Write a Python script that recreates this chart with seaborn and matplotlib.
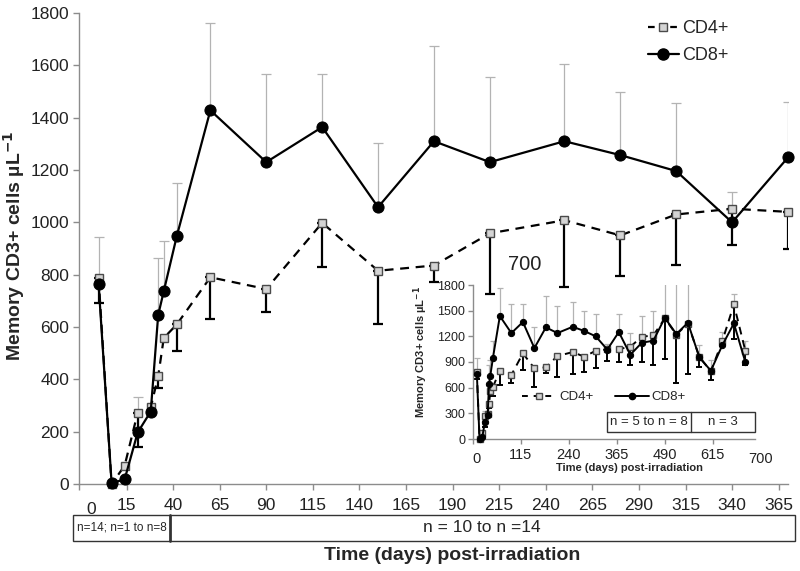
import numpy as np
import pandas as pd
import matplotlib
matplotlib.use("Agg")
import matplotlib.pyplot as plt
from matplotlib.patches import Rectangle
from matplotlib.lines import Line2D
import seaborn as sns

# Main chart data (days post-irradiation, first year)
days_main = [0, 7, 14, 21, 28, 32, 35, 42, 60, 90, 120, 150, 180, 210, 250, 280, 310, 340, 370]
cd8_main = [765, 3, 18, 197, 277, 646, 737, 948, 1428, 1230, 1364, 1058, 1310, 1230, 1310, 1257, 1196, 1000, 1248]
cd8_main_top = [944, np.nan, np.nan, 332, np.nan, 864, 929, 1150, 1762, 1567, 1567, 1303, 1674, 1556, 1605, 1498, 1456, 1116, 1459]
cd4_main = [787, 0, 70, 273, 293, 412, 558, 610, 790, 745, 998, 815, 835, 958, 1008, 950, 1030, 1052, 1040]
cd4_main_bottom = [692, np.nan, np.nan, 141, np.nan, 367, np.nan, 508, 630, 657, 829, 611, 772, 726, 753, 795, 837, 913, 898]

# Inset data (whole follow-up)
days_inset = [0, 7, 14, 21, 28, 32, 35, 42, 60, 90, 120, 150, 180, 210, 250, 280, 310, 340, 370,
              400, 430, 460, 490, 520, 550, 580, 610, 640, 670, 700]
cd8_inset = [765, 3, 18, 197, 277, 646, 737, 950, 1437, 1238, 1367, 1063, 1305, 1238, 1312, 1262, 1200, 1045, 1250,
             985, 1125, 1149, 1417, 1227, 1359, 954, 798, 1098, 1351, 896]
cd8_inset_top = [943, np.nan, np.nan, 332, np.nan, 864, 929, 1148, 1760, 1573, 1573, 1305, 1674, 1557, 1604, 1495, 1456, 1110, 1460,
                 1234, 1437, 1499, 2000, 2000, 2000, 1094, 923, 1254, 1690, 1145]
cd4_inset = [787, 0, 70, 273, 293, 412, 558, 610, 798, 748, 1001, 826, 838, 970, 1016, 962, 1032, 1048, 1051,
             1078, 1195, 1211, 1410, 1220, 1350, 960, 790, 1148, 1573, 1028]
cd4_inset_bottom = [697, np.nan, np.nan, 141, np.nan, 367, np.nan, 508, 631, 658, 806, 611, 767, 728, 756, 786, 833, 915, 903,
                    864, 903, 864, 931, 658, 756, 845, 690, np.nan, 1165, 864]

main_xticks = [15, 40, 65, 90, 115, 140, 165, 190, 215, 240, 265, 290, 315, 340, 365]
inset_xticks = [115, 240, 365, 490, 615]

sns.set_theme(style="white")
plt.rcParams['font.family'] = ['Liberation Sans', 'DejaVu Sans']

GREY = "#8c8c8c"
SQ_FACE = "#d4d4d4"
SQ_EDGE = "#4a4a4a"


def draw_series(ax, days, cd4, cd4_bottom, cd8, cd8_top, ms_sq, ms_circ, lw, cap):
    df = pd.DataFrame({"day": days, "cd4": cd4, "cd4_lo": cd4_bottom, "cd8": cd8, "cd8_hi": cd8_top})

    # grey upper bars for CD8+, black lower bars for CD4+
    up = df.dropna(subset=["cd8_hi"])
    ax.errorbar(up["day"], up["cd8"], yerr=[np.zeros(len(up)), up["cd8_hi"] - up["cd8"]],
                fmt="none", ecolor="#b3b3b3", elinewidth=0.9, capsize=cap, capthick=0.9, zorder=1)
    lo = df.dropna(subset=["cd4_lo"])
    ax.errorbar(lo["day"], lo["cd4"], yerr=[lo["cd4"] - lo["cd4_lo"], np.zeros(len(lo))],
                fmt="none", ecolor="black", elinewidth=lw, capsize=cap, capthick=lw, zorder=2)

    sns.lineplot(data=df, x="day", y="cd4", ax=ax, color="black", linestyle=(0, (4, 3)), linewidth=lw,
                 marker="s", markersize=ms_sq, markerfacecolor=SQ_FACE, markeredgecolor=SQ_EDGE,
                 markeredgewidth=1.0, label="CD4+", zorder=3, clip_on=False)
    sns.lineplot(data=df, x="day", y="cd8", ax=ax, color="black", linewidth=lw,
                 marker="o", markersize=ms_circ, markerfacecolor="black", markeredgecolor="black",
                 label="CD8+", zorder=4, clip_on=False)


def style_axes(ax):
    for side in ["top", "right"]:
        ax.spines[side].set_visible(False)
    for side in ["left", "bottom"]:
        ax.spines[side].set_color(GREY)
        ax.spines[side].set_linewidth(1.0)
    ax.set_xlabel("")
    ax.set_ylabel("")


fig = plt.figure(figsize=(8, 5.71), dpi=100)

# ---- main axes
ax = fig.add_axes([79 / 800, 1 - 484 / 571, 709 / 800, 471 / 571])
draw_series(ax, days_main, cd4_main, cd4_main_bottom, cd8_main, cd8_main_top,
            ms_sq=6, ms_circ=8, lw=1.6, cap=3.5)
style_axes(ax)
ax.set_xlim(-10.5, 370)
ax.set_ylim(0, 1800)
ax.set_yticks(np.arange(0, 1801, 200))
ax.set_yticks(np.arange(100, 1800, 200), minor=True)
ax.set_xticks([-10.5] + main_xticks, labels=[""] + [str(t) for t in main_xticks])
ax.tick_params(axis="both", which="both", direction="out", color=GREY, length=4, width=1,
               labelsize=12.5, labelcolor="#222222")
ax.tick_params(axis="x", pad=6)
ax.tick_params(axis="y", pad=3, left=True)
ax.tick_params(axis="x", bottom=True)
ax.text(-3.8, -0.0385, "0", transform=ax.get_xaxis_transform(), ha="center", va="top",
        fontsize=12.5, color="#222222")
fig.text(14 / 800, 1 - 246 / 571, "Memory CD3+ cells µL$^{\\mathbf{-1}}$", fontsize=14, fontweight="bold",
         rotation=90, ha="center", va="center")

handles = [Line2D([], [], color="black", linestyle=(0, (3, 2)), linewidth=1.6, marker="s", markersize=5.5,
                  markerfacecolor=SQ_FACE, markeredgecolor=SQ_EDGE),
           Line2D([], [], color="black", linewidth=1.6, marker="o", markersize=8)]
ax.legend(handles, ["CD4+", "CD8+"], loc="upper right", bbox_to_anchor=(745 / 800, 1 - 4 / 571),
          bbox_transform=fig.transFigure, frameon=False, fontsize=13, handlelength=1.7,
          handletextpad=0.2, labelspacing=0.55)

# stray label above inset
fig.text(525 / 800, 1 - 265 / 571, "700", fontsize=14.5, ha="center", va="center", color="#222222")

# n boxes under the main x axis
fig.patches.append(Rectangle((73 / 800, 1 - 541 / 571), 722 / 800, 26 / 571, transform=fig.transFigure,
                             fill=False, edgecolor="#333333", linewidth=1.0))
fig.lines.append(Line2D([170 / 800, 170 / 800], [1 - 541 / 571, 1 - 515 / 571], transform=fig.transFigure,
                        color="#333333", linewidth=2.0))
fig.text(122 / 800, 1 - 528 / 571, "n=14; n=1 to n=8", fontsize=8.5, ha="center", va="center")
fig.text(482 / 800, 1 - 528 / 571, "n = 10 to n =14", fontsize=12.5, ha="center", va="center")
fig.text(452 / 800, 1 - 556 / 571, "Time (days) post-irradiation", fontsize=14, fontweight="bold",
         ha="center", va="center")

# ---- inset
ax2 = fig.add_axes([473 / 800, 1 - 439 / 571, 282 / 800, 154 / 571])
ax2.set_facecolor("none")
draw_series(ax2, days_inset, cd4_inset, cd4_inset_bottom, cd8_inset, cd8_inset_top,
            ms_sq=4.5, ms_circ=4.5, lw=1.4, cap=2.5)
style_axes(ax2)
ax2.set_xlim(-10, 725)
ax2.set_ylim(0, 1800)
ax2.set_yticks(np.arange(0, 1801, 300))
ax2.set_xticks([-10] + inset_xticks, labels=[""] + [str(t) for t in inset_xticks])
ax2.tick_params(axis="both", direction="out", color=GREY, length=3.5, width=1, labelcolor="#222222")
ax2.tick_params(axis="x", labelsize=10.5, pad=3, bottom=True)
ax2.tick_params(axis="y", labelsize=9, pad=2, left=True)
for xt, s in [(0, "0"), (740, "700")]:
    ax2.text(xt, -0.085, s, transform=ax2.get_xaxis_transform(), ha="center", va="top",
             fontsize=10.5, color="#222222", clip_on=False)
fig.text(630 / 800, 1 - 468 / 571, "Time (days) post-irradiation", fontsize=8, fontweight="bold",
         ha="center", va="center")
fig.text(421 / 800, 1 - 352 / 571, "Memory CD3+ cells µL$^{\\mathbf{-1}}$", fontsize=8, fontweight="bold",
         rotation=90, ha="center", va="center")

handles2 = [Line2D([], [], color="black", linestyle=(0, (3, 3)), linewidth=1.4, marker="s", markersize=4,
                   markerfacecolor=SQ_FACE, markeredgecolor=SQ_EDGE),
            Line2D([], [], color="black", linewidth=1.4, marker="o", markersize=4.5)]
ax2.legend(handles2, ["CD4+", "CD8+"], loc="center", bbox_to_anchor=(604 / 800, 1 - 397 / 571),
           bbox_transform=fig.transFigure, frameon=False, fontsize=9.5, ncol=2, handlelength=2.6,
           handletextpad=0.2, columnspacing=1.6, borderpad=0)

fig.patches.append(Rectangle((607 / 800, 1 - 432 / 571), 148 / 800, 20 / 571, transform=fig.transFigure,
                             fill=False, edgecolor="#333333", linewidth=1.0))
fig.lines.append(Line2D([691 / 800, 691 / 800], [1 - 432 / 571, 1 - 412 / 571], transform=fig.transFigure,
                        color="#333333", linewidth=1.0))
fig.text(649 / 800, 1 - 422 / 571, "n = 5 to n = 8", fontsize=9.5, ha="center", va="center")
fig.text(723 / 800, 1 - 422 / 571, "n = 3", fontsize=9.5, ha="center", va="center")

fig.savefig("out.png", dpi=100)
